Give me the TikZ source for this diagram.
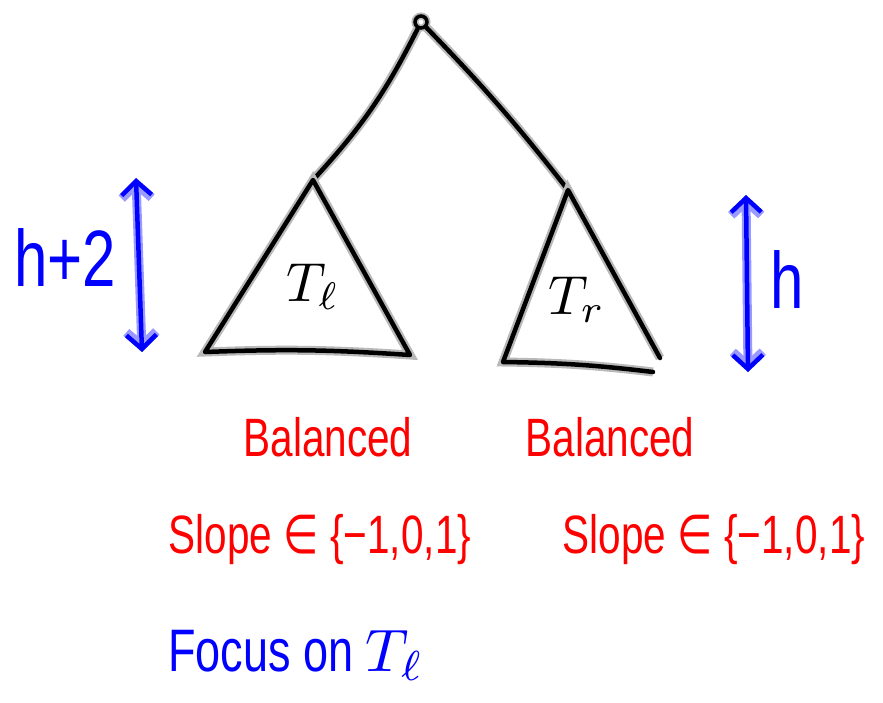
\documentclass[tikz,border=0pt]{standalone}
\usepackage{graphicx}
\usepackage{fontspec}
\setmainfont[FakeStretch=0.75]{Liberation Sans}
\newfontfamily\symfont[FakeStretch=0.75]{DejaVu Sans}
\usepackage{tikz}
\usetikzlibrary{arrows.meta}
\definecolor{PenBlue}{HTML}{0000FF}
\definecolor{PenRed}{HTML}{FF0000}
\newcommand{\bigsub}[2]{{\fontsize{10}{12}\selectfont\scalebox{#1}{$#2$}}}

\begin{document}
\begin{tikzpicture}[x=1pt, y=-1pt,
  pen/.style={line width=4.5pt, black, line cap=round, line join=round,
    preaction={draw, gray!55, line width=9pt}},
  blue_pen/.style={line width=4.5pt, PenBlue, line cap=round, line join=round,
    preaction={draw, PenBlue!40, line width=9pt},
    {Straight Barb[length=14pt, width=30pt]}-{Straight Barb[length=14pt, width=30pt]}},
  vertex/.style={circle, draw=black, line width=3.5pt, minimum size=12pt, inner sep=0pt,
    preaction={draw, gray!55, line width=7pt}},
  blue_txt/.style={text=PenBlue, font=\fontsize{80}{90}\selectfont},
  red_txt/.style={text=PenRed, font=\fontsize{54}{60}\selectfont},
]
  \useasboundingbox (0,0) rectangle (883,702);
  % root and the two subtrees
  \node[vertex] (root) at (421,22) {};
  \coordinate (ltop) at (313,180);
  \coordinate (lbl) at (205,352);
  \coordinate (lbr) at (410,355);
  \coordinate (rtop) at (568,190);
  \coordinate (rbl) at (503,362);
  \coordinate (rbr) at (660,358);
  \coordinate (rend) at (653,372);
  \draw[pen] (root) to[bend left=8] (ltop);
  \draw[pen] (root) to[bend left=3] (rtop);
  \draw[pen] (ltop) -- (lbl) to[bend left=3] (lbr) -- cycle;
  \draw[pen] (rbr) -- (rtop) -- (rbl) to[bend left=3] (rend);
  \node (tl) at (313,287) {\bigsub{5.5}{T_\ell}};
  \node (tr) at (577,300) {\bigsub{5.5}{T_r}};
  % heights
  \coordinate (lhtop) at (136,178);
  \coordinate (lhbot) at (142,352);
  \coordinate (rhtop) at (746,195);
  \coordinate (rhbot) at (748,372);
  \draw[blue_pen] (lhtop) -- (lhbot);
  \draw[blue_pen] (rhtop) -- (rhbot);
  \node[blue_txt] (hl) at (65,258) {h+2};
  \node[blue_txt] (hr) at (787,280) {h};
  % notes under the subtrees
  \foreach \n/\bx/\sx in {l/328/320, r/610/714} {
    \node[red_txt] (bal\n) at (\bx,437) {Balanced};
    \node[red_txt] (slope\n) at (\sx,540) {Slope {\symfont ∈} \{−1,0,1\}};
  }
  \node[blue_txt, font=\fontsize{60}{66}\selectfont] (focus) at (296,655)
    {Focus on \bigsub{6}{T_\ell}};
\end{tikzpicture}
\end{document}
